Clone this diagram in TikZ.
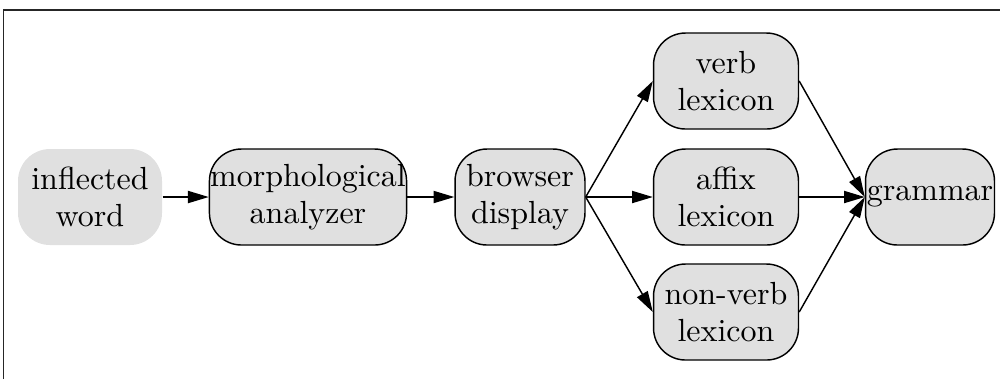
\documentclass[tikz,border=0pt]{standalone}
\usetikzlibrary{arrows.meta}
\definecolor{boxfill}{HTML}{E0E0E0}
\tikzset{
  box/.style={draw=black, line width=0.45pt, fill=boxfill, rounded corners=10pt,
    minimum height=30pt, inner sep=0pt, align=center,
    font=\fontsize{10}{11.5}\selectfont},
  plain/.style={box, draw=none},
  conn/.style={line width=0.45pt, -{Triangle[length=6.5pt,width=3.8pt]}},
  frame/.style={line width=0.6pt, draw=black!85},
}
\begin{document}
\begin{tikzpicture}[x=0.3125pt, y=-0.3125pt]
\useasboundingbox (0,0) rectangle (1000,379);
\coordinate (fb) at (3.5,379);
\coordinate (fc) at (3.5,10);
\coordinate (fr) at (1000,10);
\draw[frame] (fb) -- (fc) -- (fr);
\node[plain, minimum width=45pt] (iw) at (90,197) {inflected\\word};
\node[box, minimum width=61.6pt] (ma) at (308,197) {morphological\\analyzer};
\node[box, minimum width=40.6pt] (bd) at (520,197) {browser\\display};
\node[box, minimum width=45.3pt] (vl) at (726,81) {verb\\lexicon};
\node[box, minimum width=45.3pt] (al) at (726,197) {affix\\lexicon};
\node[box, minimum width=45.3pt] (nl) at (726,312) {non-verb\\lexicon};
\node[box, minimum width=40.3pt] (gr) at (930,197) {grammar};
\draw[conn] (iw.east) -- (ma.west);
\draw[conn] (ma.east) -- (bd.west);
\draw[conn] (bd.east) -- (vl.west);
\draw[conn] (bd.east) -- (al.west);
\draw[conn] (bd.east) -- (nl.west);
\draw[conn] (vl.east) -- (gr.west);
\draw[conn] (al.east) -- (gr.west);
\draw[conn] (nl.east) -- (gr.west);
\end{tikzpicture}
\end{document}
